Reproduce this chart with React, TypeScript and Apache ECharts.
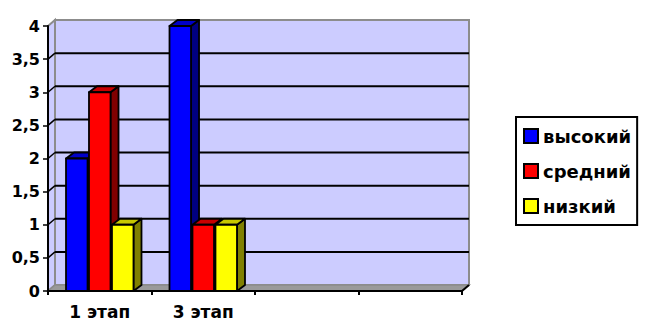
import React, { useEffect, useRef } from 'react';
import * as echarts from 'echarts';

const categories = ['1 этап', '3 этап', '', ''];
const seriesNames = ['высокий', 'средний', 'низкий'];
const highValues = [2, 4];
const midValues = [3, 1];
const lowValues = [1, 1];
const yTicks = [0, 0.5, 1, 1.5, 2, 2.5, 3, 3.5, 4];

const palette = [
  { front: '#0000ff', top: '#0000c8', side: '#000080' },
  { front: '#ff0000', top: '#c80000', side: '#800000' },
  { front: '#ffff00', top: '#c8c800', side: '#808000' },
];

const WALL_DX = 7;
const WALL_DY = -6;
const BAR_DX = 8;
const BAR_DY = -6;
const BAR_W = 0.208;
const BAR_STEP = 0.222;
const FONT = 'DejaVu Sans';

function makeBarSeries(name: string, values: number[], idx: number) {
  const colors = palette[idx];
  return {
    type: 'custom',
    name,
    z: 3,
    itemStyle: { color: colors.front },
    data: values.map((v, i) => [i, v]),
    encode: { x: 0, y: 1 },
    renderItem: (params: any, api: any) => {
      const cat = api.value(0);
      const val = api.value(1);
      const base = api.coord([cat, 0]);
      const topP = api.coord([cat, val]);
      const band = api.size([1, 0])[0];
      const w = band * BAR_W;
      const cx = base[0] + (idx - 1) * band * BAR_STEP;
      const x0 = cx - w / 2;
      const x1 = cx + w / 2;
      const y0 = topP[1];
      const y1 = base[1];
      const stroke = { stroke: '#000', lineWidth: 1.8, lineJoin: 'round' };
      return {
        type: 'group',
        children: [
          {
            type: 'polygon',
            shape: { points: [[x1, y0], [x1 + BAR_DX, y0 + BAR_DY], [x1 + BAR_DX, y1 + BAR_DY], [x1, y1]] },
            style: { fill: colors.side, ...stroke },
          },
          {
            type: 'polygon',
            shape: { points: [[x0, y0], [x0 + BAR_DX, y0 + BAR_DY], [x1 + BAR_DX, y0 + BAR_DY], [x1, y0]] },
            style: { fill: colors.top, ...stroke },
          },
          {
            type: 'rect',
            shape: { x: x0, y: y0, width: w, height: y1 - y0 },
            style: { fill: colors.front, ...stroke },
          },
        ],
      };
    },
  };
}

const frameSeries = {
  type: 'custom',
  name: 'frame',
  z: 1,
  silent: true,
  data: [[0, 0]],
  encode: { x: 0, y: 1 },
  renderItem: (params: any, api: any) => {
    const cs = params.coordSys;
    const gx = cs.x;
    const gy = cs.y;
    const gw = cs.width;
    const gh = cs.height;
    const children: any[] = [];
    children.push({
      type: 'rect',
      shape: { x: gx + WALL_DX, y: gy + WALL_DY, width: gw, height: gh },
      style: { fill: '#ccccff', stroke: '#8c8c8c', lineWidth: 2 },
    });
    children.push({
      type: 'polygon',
      shape: { points: [[gx, gy], [gx + WALL_DX, gy + WALL_DY], [gx + WALL_DX, gy + gh + WALL_DY], [gx, gy + gh]] },
      style: { fill: '#ccccff', stroke: '#8c8c8c', lineWidth: 2 },
    });
    yTicks.forEach((v) => {
      if (v === yTicks[0] || v === yTicks[yTicks.length - 1]) return;
      const y = api.coord([0, v])[1];
      children.push({
        type: 'line',
        shape: { x1: gx + WALL_DX, y1: y + WALL_DY, x2: gx + WALL_DX + gw, y2: y + WALL_DY },
        style: { stroke: '#000', lineWidth: 2 },
      });
      children.push({
        type: 'line',
        shape: { x1: gx, y1: y, x2: gx + WALL_DX, y2: y + WALL_DY },
        style: { stroke: '#000', lineWidth: 1.5 },
      });
    });
    children.push({
      type: 'polygon',
      shape: { points: [[gx, gy + gh], [gx + WALL_DX, gy + gh + WALL_DY], [gx + gw + WALL_DX, gy + gh + WALL_DY], [gx + gw, gy + gh]] },
      style: { fill: '#9a9a9a', stroke: '#8c8c8c', lineWidth: 1.5 },
    });
    children.push({
      type: 'line',
      shape: { x1: gx + gw, y1: gy + gh, x2: gx + gw + WALL_DX, y2: gy + gh + WALL_DY },
      style: { stroke: '#000', lineWidth: 2 },
    });
    return { type: 'group', children };
  },
};

export default function App() {
  const ref = useRef<HTMLDivElement>(null);
  useEffect(() => {
    document.body.style.margin = '0';
    const chart = echarts.init(ref.current!, null, { renderer: 'svg' });
    const labelStyle = { fontFamily: FONT, fontWeight: 'bold', fontSize: 16, color: '#000' };
    chart.setOption({
      animation: false,
      backgroundColor: '#ffffff',
      grid: { left: 48, top: 26, width: 414, height: 265, containLabel: false },
      legend: {
        orient: 'vertical',
        left: 516,
        top: 117,
        padding: [10, 6, 10, 7],
        itemGap: 17,
        itemWidth: 14,
        itemHeight: 14,
        borderColor: '#000',
        borderWidth: 2,
        icon: 'rect',
        textStyle: { fontFamily: FONT, fontWeight: 'bold', fontSize: 18, color: '#000' },
        data: seriesNames.map((n, i) => ({
          name: n,
          itemStyle: { color: palette[i].front, borderColor: '#000', borderWidth: 2 },
        })),
      },
      xAxis: {
        type: 'category',
        data: categories,
        z: 10,
        boundaryGap: true,
        axisLine: { lineStyle: { color: '#000', width: 2 } },
        axisTick: { show: true, length: 4, lineStyle: { color: '#000', width: 2 } },
        axisLabel: { ...labelStyle, fontSize: 17, margin: 12, interval: 0 },
        splitLine: { show: false },
      },
      yAxis: {
        type: 'value',
        min: 0,
        max: 4,
        interval: 0.5,
        z: 10,
        axisLine: { show: true, lineStyle: { color: '#000', width: 2 } },
        axisTick: { show: true, length: 5, lineStyle: { color: '#000', width: 1.5 } },
        axisLabel: {
          ...labelStyle,
          margin: 8,
          formatter: (v: number) => String(v).replace('.', ','),
        },
        splitLine: { show: false },
      },
      series: [
        frameSeries,
        makeBarSeries(seriesNames[0], highValues, 0),
        makeBarSeries(seriesNames[1], midValues, 1),
        makeBarSeries(seriesNames[2], lowValues, 2),
      ],
    });
    return () => chart.dispose();
  }, []);
  return <div ref={ref} style={{ width: 645, height: 323 }} />;
}
